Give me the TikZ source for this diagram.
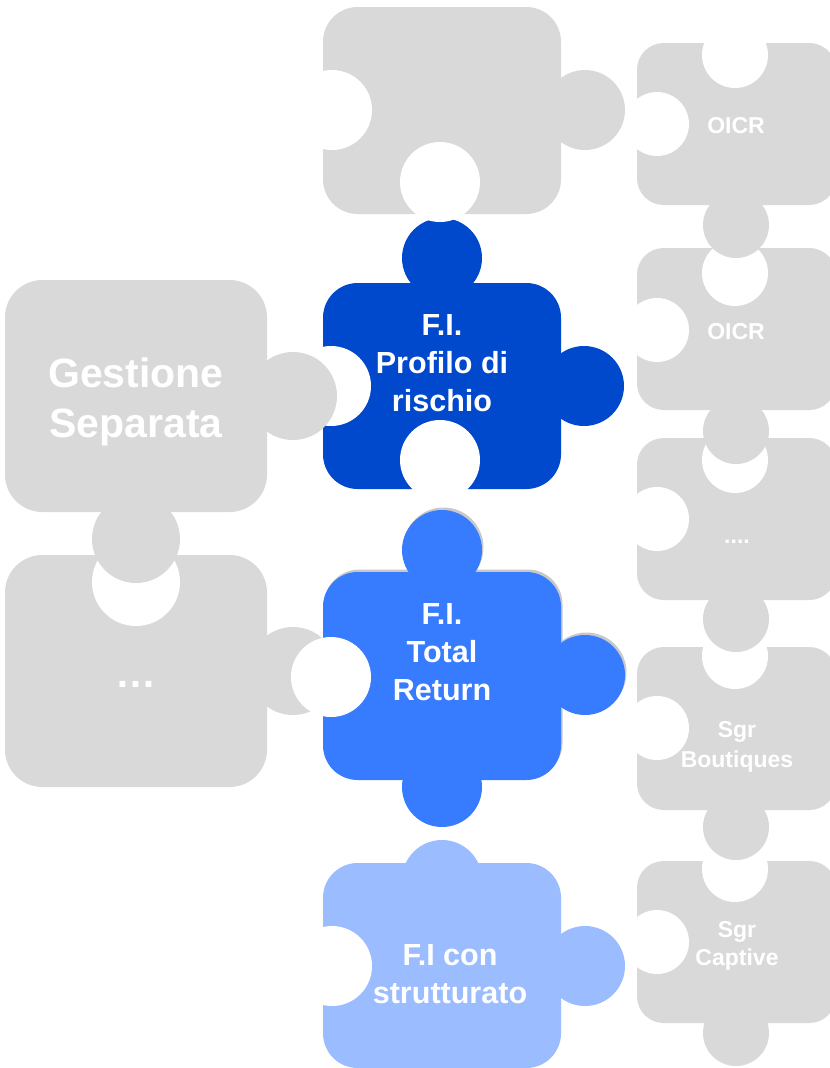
\documentclass[tikz,border=0pt]{standalone}
\usepackage{fontspec}
\setmainfont{Liberation Sans}
\begin{document}
\begin{tikzpicture}[x=0.75pt,y=-0.75pt]
\definecolor{pgray}{HTML}{D9D9D9}
\definecolor{pdark}{HTML}{0048CC}
\definecolor{pmid}{HTML}{377BFF}
\definecolor{plight}{HTML}{9BBCFF}
\definecolor{pshadow}{HTML}{C8C8C8}
\tikzset{
  bodyc/.style={rounded corners=26pt},
  bodyl/.style={rounded corners=28pt},
  bodyr/.style={rounded corners=20pt},
  hole/.style={fill=white},
  lbl/.style={text=white, anchor=base, inner sep=0pt},
  fbig/.style={font=\fontsize{30.75}{36}\selectfont\bfseries},
  fmid/.style={font=\fontsize{22.9}{28}\selectfont\bfseries},
  fsmall/.style={font=\fontsize{17.25}{21}\selectfont\bfseries},
}
\useasboundingbox (0,0) rectangle (830,1068);
\clip (0,0) rectangle (830,1068);

% ---------- step 1: bodies and own tabs ----------
% top gray piece
\fill[pgray, bodyc] (323,7) rectangle (561,214);
\fill[pgray] (585,110) circle[radius=40];
% F.I. Profilo di rischio
\fill[pdark, bodyc] (323,283) rectangle (561,489);
\fill[pdark] (442,258) circle[radius=40] (584,386) circle[radius=40];
% "..." piece
\fill[pgray, bodyl] (5,555) rectangle (267,787);
\fill[pgray] (293,671) circle[radius=44];
% Total Return shadow
\begin{scope}[shift={(1.5,-2.5)}]
  \fill[pshadow, bodyc] (323,572) rectangle (561,780);
  \fill[pshadow] (442,550) circle[radius=40] (585,675) circle[radius=40];
\end{scope}
% F.I. Total Return
\fill[pmid, bodyc] (323,572) rectangle (561,780);
\fill[pmid] (442,550) circle[radius=40] (585,675) circle[radius=40] (442,787) circle[radius=40];
% F.I con strutturato
\fill[plight, bodyc] (323,863) rectangle (561,1068);
\fill[plight] (442,880) circle[radius=40] (585,966) circle[radius=40];
% right column bodies
\foreach \t/\b in {43/205, 248/410, 438/600, 647/810, 861/1023}{
  \fill[pgray, bodyr] (637,\t) rectangle (836,\b);
}

% ---------- step 2: holes ----------
\fill[hole] (332,110) circle[radius=40] (440,182) circle[radius=40];
\fill[hole] (331,386) circle[radius=40] (440,460) circle[radius=40];
\fill[hole] (136,582) circle[radius=44];
\fill[hole] (331,677) circle[radius=40];
\fill[hole] (332,966) circle[radius=40];
\foreach \th/\lh in {55/124, 273/330, 460/519, 656/728, 869/942}{
  \fill[hole] (735,\th) circle[radius=33] (657,\lh) circle[radius=32];
}

% ---------- step 3: pieces whose tabs lie over holes ----------
\fill[pgray, bodyl] (5,280) rectangle (267,512);
\fill[pgray] (293,396) circle[radius=44] (136,539) circle[radius=44];
\foreach \y in {225, 431, 619, 827, 1033}{
  \fill[pgray] (736,\y) circle[radius=33];
}

% ---------- labels ----------
\node[lbl, fbig] (gs1) at (136,387) {Gestione};
\node[lbl, fbig] (gs2) at (136,437) {Separata};
\node[lbl, fbig] (dots) at (136,687) {…};

\node[lbl, fmid] (pr1) at (442,335) {F.I.};
\node[lbl, fmid] (pr2) at (442,373) {Profilo di};
\node[lbl, fmid] (pr3) at (442,411) {rischio};

\node[lbl, fmid] (tr1) at (442,624) {F.I.};
\node[lbl, fmid] (tr2) at (442,662) {Total};
\node[lbl, fmid] (tr3) at (442,700) {Return};

\node[lbl, fmid] (st1) at (450,965) {F.I con};
\node[lbl, fmid] (st2) at (450,1003) {strutturato};

\node[lbl, fsmall] (oi1) at (736,133) {OICR};
\node[lbl, fsmall] (oi2) at (736,339) {OICR};
\node[lbl, fsmall] (rd) at (737,543) {....};
\node[lbl, fsmall] (sb1) at (737,737) {Sgr};
\node[lbl, fsmall] (sb2) at (737,767) {Boutiques};
\node[lbl, fsmall] (sc1) at (737,937) {Sgr};
\node[lbl, fsmall] (sc2) at (737,965) {Captive};
\end{tikzpicture}
\end{document}
